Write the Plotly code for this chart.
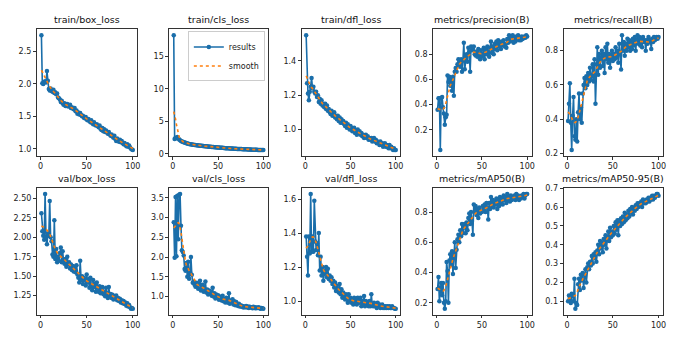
import numpy as np
import plotly.graph_objects as go

EPOCHS = list(range(1, 101))

TITLES = ["train/box_loss", "train/cls_loss", "train/dfl_loss", "metrics/precision(B)", "metrics/recall(B)",
          "val/box_loss", "val/cls_loss", "val/dfl_loss", "metrics/mAP50(B)", "metrics/mAP50-95(B)"]

train_box_loss = [2.75, 2.01, 2.00, 2.03, 2.04, 2.02, 2.20, 2.05, 1.92, 1.90,
                  1.93, 1.89, 1.88, 1.91, 1.86, 1.87, 1.84, 1.85, 1.79, 1.78,
                  1.76, 1.72, 1.74, 1.70, 1.68, 1.70, 1.66, 1.67, 1.69, 1.65,
                  1.66, 1.68, 1.63, 1.64, 1.62, 1.61, 1.63, 1.58, 1.59, 1.54,
                  1.56, 1.53, 1.55, 1.52, 1.50, 1.51, 1.48, 1.47, 1.49, 1.45,
                  1.44, 1.46, 1.43, 1.41, 1.44, 1.40, 1.38, 1.41, 1.37, 1.36,
                  1.38, 1.35, 1.33, 1.36, 1.31, 1.29, 1.32, 1.27, 1.30, 1.26,
                  1.28, 1.25, 1.23, 1.26, 1.22, 1.20, 1.22, 1.19, 1.17, 1.20,
                  1.15, 1.12, 1.16, 1.13, 1.11, 1.14, 1.10, 1.12, 1.09, 1.07,
                  1.09, 1.06, 1.04, 1.07, 1.03, 1.05, 1.02, 1.00, 0.99, 0.98]

train_cls_loss = [18.2, 2.3, 2.5, 2.4, 2.6, 2.4, 2.2, 2.1, 2.0, 1.9,
                  1.85, 1.8, 1.75, 1.7, 1.65, 1.6, 1.58, 1.52, 1.5, 1.48,
                  1.45, 1.42, 1.4, 1.38, 1.36, 1.35, 1.32, 1.3, 1.3, 1.27,
                  1.25, 1.24, 1.22, 1.2, 1.19, 1.18, 1.16, 1.15, 1.13, 1.12,
                  1.1, 1.1, 1.08, 1.06, 1.05, 1.04, 1.02, 1.01, 1.0, 0.98,
                  0.97, 0.96, 0.95, 0.93, 0.93, 0.91, 0.9, 0.89, 0.88, 0.87,
                  0.86, 0.86, 0.84, 0.83, 0.83, 0.82, 0.8, 0.8, 0.79, 0.78,
                  0.77, 0.77, 0.76, 0.75, 0.74, 0.74, 0.73, 0.72, 0.72, 0.71,
                  0.7, 0.7, 0.69, 0.68, 0.68, 0.67, 0.66, 0.66, 0.65, 0.65,
                  0.64, 0.63, 0.63, 0.62, 0.62, 0.61, 0.61, 0.6, 0.6, 0.59]

train_dfl_loss = [1.55, 1.27, 1.21, 1.17, 1.22, 1.25, 1.30, 1.24, 1.25, 1.22,
                  1.21, 1.22, 1.19, 1.20, 1.16, 1.18, 1.15, 1.17, 1.14, 1.15,
                  1.13, 1.15, 1.12, 1.14, 1.11, 1.12, 1.10, 1.09, 1.11, 1.08,
                  1.09, 1.10, 1.07, 1.08, 1.06, 1.08, 1.05, 1.07, 1.04, 1.06,
                  1.04, 1.05, 1.03, 1.02, 1.04, 1.01, 1.03, 1.02, 1.00, 1.02,
                  1.01, 0.99, 1.00, 1.01, 0.98, 0.99, 0.97, 1.00, 0.98, 0.99,
                  0.97, 0.98, 0.96, 0.97, 0.95, 0.96, 0.97, 0.95, 0.96, 0.94,
                  0.95, 0.94, 0.95, 0.93, 0.94, 0.95, 0.93, 0.94, 0.92, 0.93,
                  0.92, 0.91, 0.93, 0.91, 0.92, 0.90, 0.91, 0.92, 0.90, 0.91,
                  0.90, 0.89, 0.91, 0.89, 0.90, 0.89, 0.88, 0.89, 0.88, 0.88]

precision = [0.36, 0.45, 0.45, 0.04, 0.45, 0.46, 0.38, 0.33, 0.24, 0.30,
             0.32, 0.63, 0.58, 0.62, 0.55, 0.60, 0.51, 0.62, 0.47, 0.66,
             0.69, 0.66, 0.72, 0.76, 0.75, 0.70, 0.76, 0.66, 0.75, 0.89,
             0.68, 0.78, 0.80, 0.74, 0.85, 0.82, 0.66, 0.86, 0.83, 0.85,
             0.86, 0.80, 0.79, 0.82, 0.78, 0.84, 0.80, 0.76, 0.83, 0.78,
             0.80, 0.85, 0.76, 0.84, 0.80, 0.86, 0.82, 0.78, 0.85, 0.90,
             0.81, 0.86, 0.80, 0.88, 0.84, 0.90, 0.83, 0.91, 0.86, 0.89,
             0.84, 0.90, 0.87, 0.91, 0.86, 0.88, 0.85, 0.92, 0.89, 0.95,
             0.90, 0.94, 0.91, 0.95, 0.89, 0.93, 0.90, 0.94, 0.92, 0.95,
             0.91, 0.93, 0.91, 0.94, 0.92, 0.93, 0.94, 0.93, 0.95, 0.94]

recall = [0.39, 0.49, 0.61, 0.38, 0.22, 0.42, 0.53, 0.30, 0.28, 0.40,
          0.27, 0.44, 0.55, 0.40, 0.47, 0.38, 0.55, 0.60, 0.64, 0.58,
          0.65, 0.60, 0.67, 0.62, 0.70, 0.63, 0.65, 0.72, 0.62, 0.75,
          0.49, 0.72, 0.82, 0.66, 0.78, 0.70, 0.76, 0.80, 0.71, 0.78,
          0.67, 0.82, 0.75, 0.84, 0.73, 0.78, 0.70, 0.76, 0.80, 0.74,
          0.78, 0.75, 0.82, 0.76, 0.80, 0.73, 0.84, 0.78, 0.69, 0.89,
          0.80, 0.85, 0.77, 0.84, 0.80, 0.87, 0.82, 0.86, 0.80, 0.85,
          0.81, 0.87, 0.83, 0.88, 0.80, 0.86, 0.89, 0.84, 0.88, 0.83,
          0.87, 0.82, 0.88, 0.85, 0.86, 0.80, 0.86, 0.84, 0.88, 0.85,
          0.86, 0.81, 0.87, 0.85, 0.88, 0.86, 0.87, 0.88, 0.87, 0.88]

val_box_loss = [2.31, 2.08, 2.02, 1.97, 2.56, 2.00, 1.91, 2.05, 2.02, 2.47,
                2.00, 1.95, 1.78, 1.75, 2.22, 1.72, 1.85, 1.68, 1.75, 1.70,
                1.80, 1.87, 1.68, 1.82, 1.70, 1.66, 1.72, 1.62, 1.75, 1.65,
                1.68, 1.60, 1.65, 1.58, 1.63, 1.56, 1.62, 1.55, 1.64, 1.52,
                1.48, 1.42, 1.70, 1.45, 1.50, 1.40, 1.48, 1.45, 1.38, 1.52,
                1.42, 1.46, 1.35, 1.48, 1.38, 1.32, 1.45, 1.36, 1.40, 1.30,
                1.42, 1.35, 1.30, 1.37, 1.28, 1.33, 1.36, 1.27, 1.30, 1.24,
                1.35, 1.28, 1.22, 1.36, 1.25, 1.27, 1.22, 1.26, 1.20, 1.24,
                1.21, 1.25, 1.19, 1.22, 1.18, 1.21, 1.16, 1.19, 1.15, 1.18,
                1.14, 1.16, 1.12, 1.15, 1.11, 1.13, 1.10, 1.08, 1.09, 1.08]

val_cls_loss = [2.88, 1.98, 3.52, 2.02, 3.55, 2.45, 3.58, 3.60, 2.79, 2.17,
                2.13, 2.04, 1.70, 1.65, 1.85, 1.50, 1.88, 1.45, 1.62, 2.00,
                1.55, 1.35, 1.38, 1.30, 1.25, 1.35, 1.28, 1.20, 1.32, 1.40,
                1.15, 1.25, 1.30, 1.12, 1.20, 1.38, 1.10, 1.18, 1.05, 1.15,
                1.08, 1.12, 1.02, 1.22, 1.00, 1.08, 0.95, 1.05, 0.98, 1.03,
                0.92, 1.00, 0.95, 0.90, 1.02, 0.88, 0.93, 0.85, 0.97, 0.88,
                0.84, 1.08, 0.82, 0.90, 0.86, 0.93, 0.80, 0.88, 0.78, 0.86,
                0.80, 0.76, 0.82, 0.75, 0.78, 0.74, 0.76, 0.72, 0.75, 0.73,
                0.76, 0.72, 0.75, 0.71, 0.74, 0.72, 0.73, 0.70, 0.74, 0.71,
                0.73, 0.70, 0.72, 0.71, 0.73, 0.70, 0.69, 0.71, 0.70, 0.69]

val_dfl_loss = [1.38, 1.26, 1.15, 1.38, 1.28, 1.63, 1.29, 1.38, 1.29, 1.59,
                1.35, 1.30, 1.34, 1.27, 1.40, 1.18, 1.26, 1.15, 1.20, 1.12,
                1.16, 1.18, 1.20, 1.14, 1.19, 1.13, 1.15, 1.12, 1.14, 1.10,
                1.12, 1.08, 1.11, 1.06, 1.09, 1.07, 1.05, 1.10, 1.04, 1.07,
                1.02, 1.05, 1.03, 1.01, 1.04, 1.02, 0.99, 1.04, 1.00, 1.02,
                0.99, 1.01, 0.98, 1.02, 0.99, 1.01, 0.98, 1.02, 1.00, 0.99,
                1.02, 0.97, 1.00, 0.98, 1.03, 0.97, 1.00, 0.98, 0.99, 0.97,
                1.00, 0.97, 1.04, 0.98, 0.97, 0.99, 0.97, 0.98, 0.96, 0.99,
                0.97, 0.98, 0.96, 0.97, 0.98, 0.96, 0.97, 0.96, 0.97, 0.96,
                0.97, 0.96, 0.97, 0.96, 0.96, 0.97, 0.96, 0.96, 0.955, 0.955]

map50 = [0.29, 0.37, 0.21, 0.30, 0.33, 0.25, 0.33, 0.20, 0.16, 0.21,
         0.47, 0.41, 0.20, 0.48, 0.52, 0.45, 0.54, 0.39, 0.52, 0.60,
         0.43, 0.55, 0.62, 0.65, 0.60, 0.68, 0.64, 0.72, 0.66, 0.70,
         0.72, 0.66, 0.73, 0.68, 0.76, 0.79, 0.72, 0.80, 0.74, 0.65,
         0.85, 0.80, 0.84, 0.78, 0.82, 0.76, 0.83, 0.79, 0.81, 0.80,
         0.84, 0.82, 0.85, 0.80, 0.86, 0.83, 0.75, 0.86, 0.82, 0.90,
         0.84, 0.88, 0.83, 0.87, 0.85, 0.89, 0.82, 0.88, 0.84, 0.90,
         0.86, 0.89, 0.85, 0.91, 0.88, 0.90, 0.86, 0.92, 0.88, 0.90,
         0.87, 0.91, 0.88, 0.90, 0.89, 0.91, 0.88, 0.92, 0.89, 0.91,
         0.88, 0.90, 0.89, 0.91, 0.90, 0.92, 0.89, 0.91, 0.92, 0.92]

map50_95 = [0.10, 0.13, 0.11, 0.09, 0.14, 0.13, 0.10, 0.22, 0.06, 0.09,
            0.08, 0.19, 0.22, 0.16, 0.24, 0.21, 0.25, 0.17, 0.24, 0.27,
            0.20, 0.28, 0.30, 0.27, 0.31, 0.29, 0.34, 0.30, 0.35, 0.33,
            0.36, 0.31, 0.37, 0.40, 0.35, 0.42, 0.38, 0.41, 0.36, 0.43,
            0.40, 0.45, 0.38, 0.44, 0.47, 0.42, 0.49, 0.44, 0.47, 0.45,
            0.50, 0.46, 0.52, 0.48, 0.53, 0.45, 0.53, 0.50, 0.54, 0.51,
            0.55, 0.52, 0.57, 0.53, 0.56, 0.54, 0.58, 0.55, 0.59, 0.57,
            0.60, 0.56, 0.59, 0.58, 0.61, 0.59, 0.62, 0.60, 0.62, 0.61,
            0.63, 0.60, 0.64, 0.62, 0.63, 0.62, 0.64, 0.63, 0.65, 0.63,
            0.65, 0.64, 0.66, 0.64, 0.66, 0.65, 0.66, 0.67, 0.67, 0.66]

SERIES = [train_box_loss, train_cls_loss, train_dfl_loss, precision, recall,
          val_box_loss, val_cls_loss, val_dfl_loss, map50, map50_95]

TICK_VALUES = [[1.0, 1.5, 2.0, 2.5], [0, 5, 10, 15], [1.0, 1.2, 1.4], [0.2, 0.4, 0.6, 0.8], [0.2, 0.4, 0.6, 0.8],
               [1.25, 1.5, 1.75, 2.0, 2.25, 2.5], [1.0, 1.5, 2.0, 2.5, 3.0, 3.5], [1.0, 1.2, 1.4, 1.6],
               [0.2, 0.4, 0.6, 0.8], [0.1, 0.2, 0.3, 0.4, 0.5, 0.6, 0.7]]
TICK_LABELS = [["1.0", "1.5", "2.0", "2.5"], ["0", "5", "10", "15"], ["1.0", "1.2", "1.4"],
               ["0.2", "0.4", "0.6", "0.8"], ["0.2", "0.4", "0.6", "0.8"],
               ["1.25", "1.50", "1.75", "2.00", "2.25", "2.50"], ["1.0", "1.5", "2.0", "2.5", "3.0", "3.5"],
               ["1.0", "1.2", "1.4", "1.6"], ["0.2", "0.4", "0.6", "0.8"],
               ["0.1", "0.2", "0.3", "0.4", "0.5", "0.6", "0.7"]]
X_TICKS = [0, 50, 100]


def gaussian_smooth(y, sigma=3.0):
    r = int(4 * sigma + 0.5)
    k = np.exp(-0.5 * (np.arange(-r, r + 1) / sigma) ** 2)
    k /= k.sum()
    yp = np.pad(np.asarray(y, float), r, mode="symmetric")
    return np.convolve(yp, k, mode="valid")


W, H = 684, 342
LEFTS = [37, 170, 303, 435, 566]
RIGHTS = [138, 269, 402, 534, 666]
TOPS = [26, 188]
BOTTOMS = [155, 317]

BLUE = "#1a6eaa"
ORANGE = "#ff7f0e"
FONT = "DejaVu Sans"

fig = go.Figure()
layout = {}
annotations = []
for i, (title, y) in enumerate(zip(TITLES, SERIES)):
    r, c = divmod(i, 5)
    n = i + 1
    xa = "x" if n == 1 else f"x{n}"
    ya = "y" if n == 1 else f"y{n}"
    ys = gaussian_smooth(y)
    fig.add_trace(go.Scatter(x=EPOCHS, y=y, mode="lines+markers", name="results",
                             line=dict(color=BLUE, width=1.6),
                             marker=dict(color=BLUE, size=4.5, line=dict(width=0)),
                             xaxis=xa, yaxis=ya, showlegend=(i == 1)))
    fig.add_trace(go.Scatter(x=EPOCHS, y=ys, mode="lines", name="smooth",
                             line=dict(color=ORANGE, width=1.6, dash="dot"),
                             xaxis=xa, yaxis=ya, showlegend=(i == 1)))
    lo, hi = min(y), max(y)
    pad = 0.05 * (hi - lo)
    x0, x1 = LEFTS[c] / W, RIGHTS[c] / W
    y1, y0 = 1 - TOPS[r] / H, 1 - BOTTOMS[r] / H
    common = dict(showline=True, mirror=True, linecolor="#333", linewidth=0.8,
                  ticks="outside", ticklen=3, tickwidth=0.8, tickcolor="#333",
                  showgrid=False, zeroline=False,
                  tickfont=dict(family=FONT, size=8, color="#222"))
    layout["xaxis" if n == 1 else f"xaxis{n}"] = dict(
        domain=[x0, x1], anchor=ya, range=[1 - 4.95, 100 + 4.95],
        tickvals=X_TICKS, ticktext=[str(t) for t in X_TICKS], **common)
    layout["yaxis" if n == 1 else f"yaxis{n}"] = dict(
        domain=[y0, y1], anchor=xa, range=[lo - pad, hi + pad],
        tickvals=TICK_VALUES[i], ticktext=TICK_LABELS[i], **common)
    annotations.append(dict(text=title, x=(x0 + x1) / 2, y=y1, xref="paper", yref="paper",
                            xanchor="center", yanchor="bottom", yshift=2, showarrow=False,
                            font=dict(family=FONT, size=9.5, color="#111", weight=400)))

fig.update_layout(**layout)
fig.update_layout(width=W, height=H, margin=dict(l=0, r=0, t=0, b=0),
                  paper_bgcolor="white", plot_bgcolor="white",
                  annotations=annotations,
                  legend=dict(x=266 / W, y=1 - 28 / H, xanchor="right", yanchor="top",
                              bgcolor="rgba(255,255,255,0.8)", bordercolor="#ccc", borderwidth=1,
                              font=dict(family=FONT, size=8, color="#222"),
                              itemwidth=30, tracegroupgap=0))
fig.write_html("out.html")
